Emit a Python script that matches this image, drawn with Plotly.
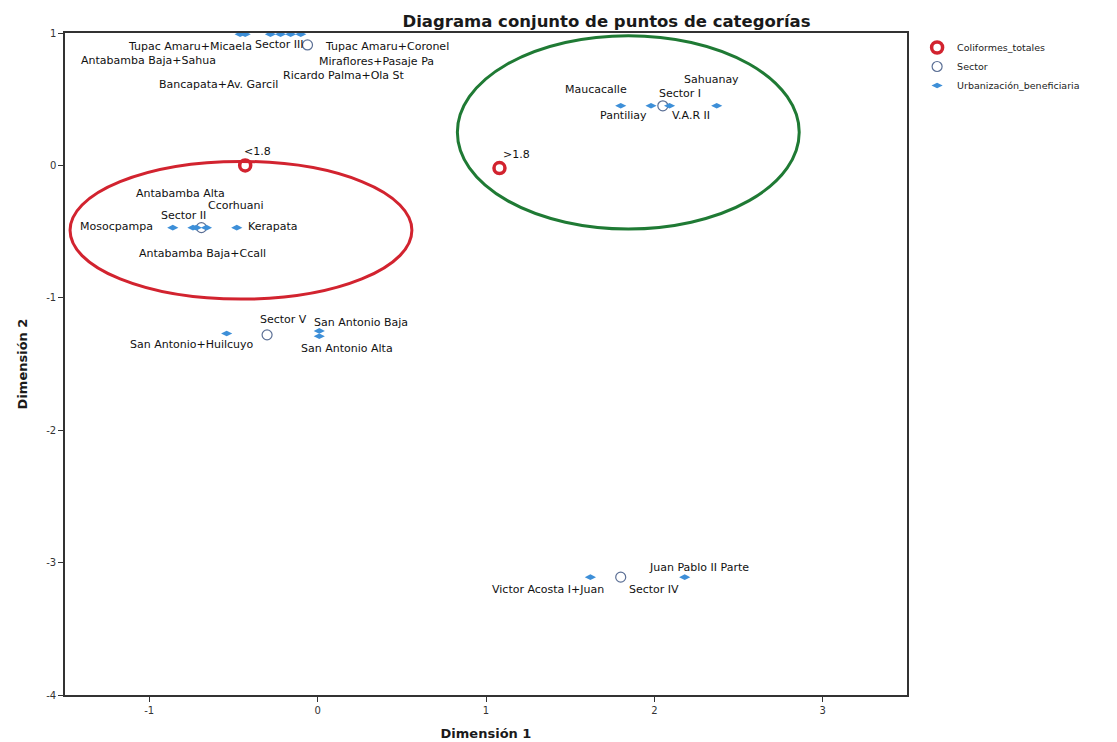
import plotly.graph_objects as go

# Coordinates of the category points in the first two dimensions
coliformes_names = ["<1.8", ">1.8"]
coliformes_d1 = [-0.43, 1.08]
coliformes_d2 = [0.00, -0.02]

sector_names = ["Sector I", "Sector II", "Sector III", "Sector IV", "Sector V"]
sector_d1 = [2.05, -0.69, -0.06, 1.80, -0.30]
sector_d2 = [0.45, -0.47, 0.91, -3.11, -1.28]

urb_names = [
    "Pantiliay", "Maucacalle", "Sahuanay", "V.A.R II",
    "Mosocpampa", "Antabamba Alta", "Ccorhuani", "Antabamba Baja+Ccall", "Kerapata",
    "San Antonio+Huilcuyo", "San Antonio Baja", "San Antonio Alta",
    "Victor Acosta I+Juan", "Juan Pablo II Parte",
    "Tupac Amaru+Micaela", "Tupac Amaru+Coronel", "Antabamba Baja+Sahua",
    "Miraflores+Pasaje Pa", "Bancapata+Av. Garcil", "Ricardo Palma+Ola St",
]
urb_d1 = [
    1.80, 1.98, 2.09, 2.37,
    -0.86, -0.72, -0.66, -0.74, -0.48,
    -0.54, 0.01, 0.01,
    1.62, 2.18,
    -0.46, -0.10, -0.43, -0.16, -0.28, -0.22,
]
urb_d2 = [
    0.45, 0.45, 0.45, 0.45,
    -0.47, -0.47, -0.47, -0.47, -0.47,
    -1.27, -1.25, -1.29,
    -3.11, -3.11,
    0.99, 0.99, 0.99, 0.99, 0.99, 0.99,
]

x_ticks = [-1, 0, 1, 2, 3]
y_ticks = [-4, -3, -2, -1, 0, 1]

# Label placement relative to each marker, in pixels (dx right, dy up)
label_offsets = {
    "<1.8": (12, 14), ">1.8": (17, 14),
    "Sector I": (17, 12), "Sector II": (-18, 12), "Sector III": (-28, 0),
    "Sector IV": (33, -12), "Sector V": (16, 15),
    "Pantiliay": (3, -10), "Maucacalle": (-55, 16), "Sahuanay": (42, 26),
    "V.A.R II": (-26, -10),
    "Mosocpampa": (-56, 1), "Antabamba Alta": (-16, 34), "Ccorhuani": (30, 22),
    "Antabamba Baja+Ccall": (10, -26), "Kerapata": (36, 1),
    "San Antonio+Huilcuyo": (-35, -11), "San Antonio Baja": (42, 8),
    "San Antonio Alta": (28, -12),
    "Victor Acosta I+Juan": (-42, -12), "Juan Pablo II Parte": (14, 10),
    "Tupac Amaru+Micaela": (-50, -12), "Tupac Amaru+Coronel": (86, -12),
    "Antabamba Baja+Sahua": (-97, -26), "Miraflores+Pasaje Pa": (86, -27),
    "Bancapata+Av. Garcil": (-52, -50), "Ricardo Palma+Ola St": (63, -41),
}

RED = "#d2232f"
SECTOR_BLUE = "#5b6f95"
URB_BLUE = "#3d8fd8"
GREEN = "#1f7a34"
FONT = "DejaVu Sans, Arial, sans-serif"

fig = go.Figure()

fig.add_trace(go.Scatter(
    x=coliformes_d1, y=coliformes_d2, mode="markers", name="Coliformes_totales",
    marker=dict(symbol="circle-open", size=11, color=RED, line=dict(width=3.5, color=RED)),
))
fig.add_trace(go.Scatter(
    x=sector_d1, y=sector_d2, mode="markers", name="Sector",
    marker=dict(symbol="circle-open", size=10, color=SECTOR_BLUE, line=dict(width=1.2, color=SECTOR_BLUE)),
))
fig.add_trace(go.Scatter(
    x=urb_d1, y=urb_d2, mode="markers", name="Urbanización_beneficiaria",
    marker=dict(symbol="diamond-wide", size=8, color=URB_BLUE, line=dict(width=0)),
    cliponaxis=False,
))

annotations = []
for names, xs, ys in [(coliformes_names, coliformes_d1, coliformes_d2),
                      (sector_names, sector_d1, sector_d2),
                      (urb_names, urb_d1, urb_d2)]:
    for n, x, y in zip(names, xs, ys):
        dx, dy = label_offsets.get(n, (0, 10))
        annotations.append(dict(
            x=x, y=y, xref="x", yref="y", text=n, showarrow=False,
            xshift=dx, yshift=dy, font=dict(family=FONT, size=11, color="#111111"),
        ))

# Cluster outlines
shapes = [
    dict(type="circle", xref="x", yref="y", x0=-1.47, x1=0.56, y0=-1.01, y1=0.03,
         line=dict(color=RED, width=3)),
    dict(type="circle", xref="x", yref="y", x0=0.83, x1=2.86, y0=-0.48, y1=0.98,
         line=dict(color=GREEN, width=3)),
]

axis_common = dict(
    showgrid=False, zeroline=False, showline=True, linecolor="#333333", linewidth=1.5,
    mirror=True, ticks="outside", ticklen=5, tickcolor="#333333",
    tickfont=dict(family=FONT, size=10, color="#333333"), automargin=False,
)

fig.update_layout(
    width=1117, height=742,
    margin=dict(l=65, r=210, t=33, b=47),
    paper_bgcolor="white", plot_bgcolor="white",
    title=dict(text="<b>Diagrama conjunto de puntos de categorías</b>",
               x=0.543, xanchor="center", y=0.972, yanchor="middle",
               font=dict(family=FONT, size=16.5, color="#1a1a1a")),
    xaxis=dict(range=[-1.5, 3.5], tickvals=x_ticks, ticktext=[str(v) for v in x_ticks],
               title=dict(text="<b>Dimensión 1</b>", standoff=14,
                          font=dict(family=FONT, size=13, color="#1a1a1a")),
               **axis_common),
    yaxis=dict(range=[-4, 1], tickvals=y_ticks, ticktext=[str(v) for v in y_ticks],
               title=dict(text="<b>Dimensión 2</b>", standoff=16,
                          font=dict(family=FONT, size=13, color="#1a1a1a")),
               **axis_common),
    legend=dict(x=1.012, y=1.0, xanchor="left", yanchor="top",
                font=dict(family=FONT, size=9.5, color="#222222"),
                bgcolor="rgba(0,0,0,0)", tracegroupgap=0, itemwidth=30),
    annotations=annotations,
    shapes=shapes,
    showlegend=True,
)

fig.write_html("out.html")
